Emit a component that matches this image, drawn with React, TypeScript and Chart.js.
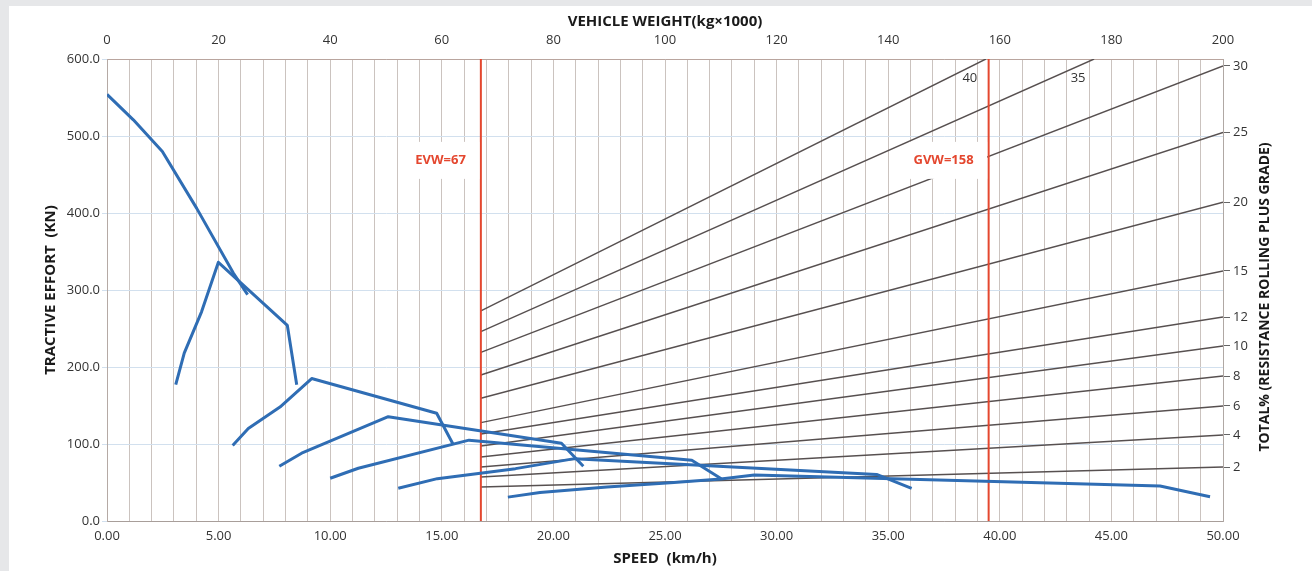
import React, { useEffect, useRef } from 'react';
import { Chart, registerables } from 'chart.js';

Chart.register(...registerables);

// ---------- data ----------
const speedMin = 0;
const speedMax = 50;
const weightMin = 0;
const weightMax = 200;
const effortMin = 0;
const effortMax = 600;

// gear curves: speed (km/h) vs tractive effort (KN)
const gear1Speed = [0, 1.18, 2.48, 4.02, 5.66, 6.3];
const gear1Effort = [554, 521, 480, 406, 322, 294];

const gear2Speed = [3.08, 3.46, 4.24, 4.99, 8.08, 8.5];
const gear2Effort = [177, 218, 272, 336, 254, 177];

const gear3Speed = [5.63, 6.33, 7.75, 9.17, 14.77, 15.5];
const gear3Effort = [98, 120, 148, 185, 140, 100];

const gear4Speed = [7.72, 8.72, 12.6, 20.36, 21.34];
const gear4Effort = [71, 88, 135.5, 101, 71];

const gear5Speed = [10.0, 11.26, 16.22, 26.2, 27.52];
const gear5Effort = [55.5, 68.5, 105, 79, 55];

const gear6Speed = [13.05, 14.8, 18.3, 20.95, 34.48, 36.05];
const gear6Effort = [42.5, 55, 68, 81, 60.5, 42.5];

const gear7Speed = [17.96, 19.4, 22.4, 25.4, 27.5, 29.0, 47.18, 49.42];
const gear7Effort = [31, 37, 44, 50, 54.5, 59.7, 45.5, 31.6];

// resistance lines (total % rolling + grade), drawn on the vehicle-weight axis
const gradeLabels = ['40', '35', '30', '25', '20', '15', '12', '10', '8', '6', '4', '2'];
const gradeStartEffort = [273, 246, 219, 189.6, 159.4, 127.7, 113, 97.4, 83.1, 70.1, 57.1, 44.2];
const gradeEndWeight = [157.5, 176.9, 200, 200, 200, 200, 200, 200, 200, 200, 200, 200];
const gradeEndEffort = [600, 600, 591, 504.5, 414, 324.7, 264.9, 227.3, 188.3, 149.4, 111.7, 70.1];

// vehicle weight markers
const markerWeights = [67, 158];
const markerLabels = ['EVW=67', 'GVW=158'];

const topTitle = 'VEHICLE WEIGHT(kg\u00d71000)';
const bottomTitle = 'SPEED  (km/h)';
const leftTitle = 'TRACTIVE EFFORT  (KN)';
const rightTitle = 'TOTAL% (RESISTANCE ROLLING PLUS GRADE)';

// ---------- styles ----------
const FONT = '"Open Sans", sans-serif';
const BLUE = '#2f6db4';
const RED = '#e4472f';
const RES = '#575050';
const VGRID = '#cbc3bf';
const HGRID = '#d2e0ee';

const toPts = (xs: number[], ys: number[]) => xs.map((x, i) => ({ x, y: ys[i] }));

const overlayPlugin = {
  id: 'overlayLabels',
  afterDatasetsDraw(chart: any) {
    const { ctx, scales } = chart;
    const xt = scales.xTop;
    const y = scales.y;
    const yR = scales.yR;
    ctx.save();
    // marker labels with white boxes
    ctx.font = `bold 13px ${FONT}`;
    ctx.textBaseline = 'middle';
    ctx.textAlign = 'right';
    markerWeights.forEach((w, i) => {
      const xp = xt.getPixelForValue(w);
      const yp = y.getPixelForValue(469);
      const tw = ctx.measureText(markerLabels[i]).width;
      const right = xp - 15;
      ctx.fillStyle = '#ffffff';
      ctx.fillRect(right - tw - 4, yp - 18, xp - 1.5 - (right - tw - 4), 37);
      ctx.fillStyle = RED;
      ctx.fillText(markerLabels[i], right, yp);
    });
    // grade labels for lines that end at the top
    ctx.font = `13px ${FONT}`;
    ctx.fillStyle = '#333';
    ctx.textAlign = 'center';
    gradeLabels.forEach((g, i) => {
      if (gradeEndWeight[i] < weightMax) {
        const xp = xt.getPixelForValue(gradeEndWeight[i]) - 16;
        const yp = y.getPixelForValue(575);
        ctx.fillText(g, xp, yp);
      }
    });
    // right axis title (reads bottom to top)
    ctx.font = `bold 14px ${FONT}`;
    ctx.fillStyle = '#1a1a1a';
    ctx.translate(yR.left + 42, (chart.chartArea.top + chart.chartArea.bottom) / 2 + 7);
    ctx.rotate(-Math.PI / 2);
    ctx.textAlign = 'center';
    ctx.fillText(rightTitle, 0, 0);
    ctx.restore();
  },
};

export default function App() {
  const ref = useRef<HTMLCanvasElement>(null);

  useEffect(() => {
    if (!ref.current) return;
    Chart.defaults.font.family = FONT;

    const gearSets = [
      [gear1Speed, gear1Effort],
      [gear2Speed, gear2Effort],
      [gear3Speed, gear3Effort],
      [gear4Speed, gear4Effort],
      [gear5Speed, gear5Effort],
      [gear6Speed, gear6Effort],
      [gear7Speed, gear7Effort],
    ].map(([xs, ys]) => ({
      data: toPts(xs, ys),
      xAxisID: 'x',
      yAxisID: 'y',
      borderColor: BLUE,
      borderWidth: 3,
      pointRadius: 0,
      tension: 0,
      fill: false,
      borderJoinStyle: 'round' as const,
    }));

    const markerSets = markerWeights.map((w) => ({
      data: [
        { x: w, y: effortMin },
        { x: w, y: effortMax },
      ],
      xAxisID: 'xTop',
      yAxisID: 'y',
      borderColor: RED,
      borderWidth: 2,
      pointRadius: 0,
      fill: false,
    }));

    const gradeSets = gradeLabels.map((g, i) => ({
      data: [
        { x: markerWeights[0], y: gradeStartEffort[i] },
        { x: gradeEndWeight[i], y: gradeEndEffort[i] },
      ],
      xAxisID: 'xTop',
      yAxisID: 'y',
      borderColor: RES,
      borderWidth: 1.4,
      pointRadius: 0,
      fill: false,
    }));

    const rightTicks = gradeEndEffort.filter((_, i) => gradeEndWeight[i] === weightMax);
    const rightLabel = (v: number) => {
      const i = gradeEndEffort.findIndex((e, k) => gradeEndWeight[k] === weightMax && Math.abs(e - v) < 0.01);
      return i >= 0 ? gradeLabels[i] : '';
    };

    const tickFont = { family: FONT, size: 13 };
    const titleFont = { family: FONT, size: 15, weight: 'bold' as const };

    const chart = new Chart(ref.current, {
      type: 'line',
      data: { datasets: [...gearSets, ...markerSets, ...gradeSets] as any },
      plugins: [overlayPlugin],
      options: {
        animation: false,
        responsive: true,
        maintainAspectRatio: false,
        layout: { padding: 0 },
        plugins: { legend: { display: false }, tooltip: { enabled: false } },
        scales: {
          x: {
            type: 'linear',
            position: 'bottom',
            min: speedMin,
            max: speedMax,
            ticks: {
              stepSize: 1,
              autoSkip: false,
              maxRotation: 0,
              padding: 7,
              color: '#333',
              font: tickFont,
              callback: (v: any) => (Number(v) % 5 === 0 ? Number(v).toFixed(2) : ''),
            },
            grid: { color: VGRID, lineWidth: 1, drawTicks: false },
            border: { color: '#a89e9a' },
            title: { display: true, text: bottomTitle, color: '#1a1a1a', font: titleFont, padding: { top: 0, bottom: 3 } },
            afterFit: (s: any) => {
              s.height = 50;
            },
          },
          xTop: {
            type: 'linear',
            position: 'top',
            min: weightMin,
            max: weightMax,
            ticks: {
              stepSize: 20,
              maxRotation: 0,
              padding: 11,
              color: '#333',
              font: tickFont,
            },
            grid: { drawOnChartArea: false, drawTicks: false },
            border: { color: '#b9a59e' },
            title: { display: true, text: topTitle, color: '#1a1a1a', font: titleFont, padding: { top: 7, bottom: 0 } },
            afterFit: (s: any) => {
              s.height = 53;
            },
          },
          y: {
            type: 'linear',
            position: 'left',
            min: effortMin,
            max: effortMax,
            ticks: {
              stepSize: 100,
              padding: 2,
              color: '#333',
              font: tickFont,
              callback: (v: any) => Number(v).toFixed(1),
            },
            grid: { color: HGRID, lineWidth: 1, tickLength: 5, drawTicks: true },
            border: { color: '#b5aaa5' },
            title: { display: true, text: leftTitle, color: '#1a1a1a', font: titleFont, padding: { top: 33, bottom: 0 } },
            afterFit: (s: any) => {
              s.width = 98;
            },
          },
          yR: {
            type: 'linear',
            position: 'right',
            min: effortMin,
            max: effortMax,
            afterBuildTicks: (s: any) => {
              s.ticks = rightTicks.map((v) => ({ value: v }));
            },
            ticks: {
              padding: 3,
              color: '#333',
              font: tickFont,
              callback: (v: any) => rightLabel(Number(v)),
            },
            grid: { drawOnChartArea: false, drawTicks: true, tickLength: 7, color: '#666' },
            border: { color: '#b0a8a4' },
            afterFit: (s: any) => {
              s.width = 89;
            },
          },
        },
      } as any,
    });

    return () => chart.destroy();
  }, []);

  return (
    <div style={{ position: 'fixed', inset: 0, background: '#e6e7e9' }}>
      <div style={{ position: 'absolute', left: 9, top: 6, right: 0, bottom: 0, background: '#ffffff' }}>
        <canvas ref={ref} style={{ display: 'block' }} />
      </div>
    </div>
  );
}
